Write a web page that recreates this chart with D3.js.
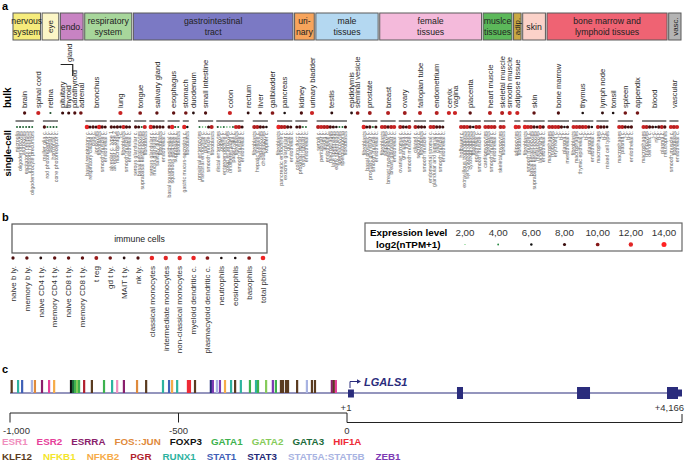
<!DOCTYPE html>
<html><head><meta charset="utf-8">
<script src="https://cdn.jsdelivr.net/npm/d3@7"></script>
<style>body{margin:0;background:#fff}svg{font-family:"Liberation Sans",Arial,sans-serif;display:block}</style>
</head><body><script>
// ---------------- DATA ----------------
const bulkTissues = ["brain","spinal cord","retina","pituitary","thyroid","parathyroid","adrenal","bronchus","lung","tongue","salivary gland","esophagus","stomach","duodenum","small intestine","colon","rectum","liver","gallbladder","pancreas","kidney","urinary bladder","testis","epididymis","seminal vesicle","prostate","breast","ovary","fallopian tube","endometrium","cervix","vagina","placenta","heart muscle","skeletal muscle","smooth muscle","adipose tissue","skin","bone marrow","thymus","lymph node","tonsil","spleen","appendix","blood","vascular"];
const bulkValues = [8.5,11.5,5,8,8,8.5,9.5,null,11.5,10,9,9,9.5,7,8.5,11.5,7.5,8,10,6.5,8.5,11.5,7.5,7,10,10.5,11,10.5,11,11,11.5,11.5,9,11,11,11.5,11.5,9,8.5,6.5,7.5,6.5,9.5,9.5,null,null];

const singleCell = [
 ["brain","microglia",4.5],["brain","oligodendrocytes",5],["brain","astrocytes",4.5],["brain","excitatory neurons",4.5],["brain","inhibitory neurons",5],["brain","oligodendrocyte precursors",4.5],
 ["retina","muller glia c.",8.5],["retina","rod photoreceptor c.",4.5],["retina","bipolar c.",4.5],["retina","horizontal c.",5],["retina","cone photoreceptor c.",4.5],
 ["bronchus","basal respiratory c.",12.5],["bronchus","respiratory ciliated c.",8],["bronchus","club c.",8.5],["bronchus","ionocytes",8],["bronchus","fibroblasts",12],["bronchus","smooth muscle c.",8.5],["bronchus","endothelial c.",8],
 ["lung","alveolar c. type 1",8.5],["lung","alveolar c. type 2",8],["lung","macrophages",8.5],["lung","t-c.",7.5],["lung","fibroblasts",11.5],["lung","smooth muscle c.",8.5],["lung","endothelial c.",8],
 ["tongue","serous glandular c.",8.5],["tongue","basal keratinocytes",8],["tongue","suprabasal keratinocytes",4.5],["tongue","fibroblasts",11.5],
 ["salivary gland","serous glandular c.",12],["salivary gland","mucus glandular c.",8.5],["salivary gland","salivary duct c.",8.5],["salivary gland","fibroblasts",8.5],["salivary gland","endothelial c.",8],
 ["esophagus","basal squamous epithelial c.",8.5],["esophagus","squamous epithelial c.",12],["esophagus","suprabasal c.",5],["esophagus","fibroblasts",4.5],
 ["stomach","gastric mucus-secreting c.",12],["stomach","fibroblasts",6],
 ["small intestine","proximal enterocytes",4.5],["small intestine","intestinal endocrine c.",3],["small intestine","paneth c.",3],["small intestine","smooth muscle c.",8],["small intestine","fibroblasts",11],
 ["colon","distal enterocytes",5],["colon","goblet c.",3.5],["colon","enteroendocrine c.",4.5],["colon","colon enterocytes",3],["colon","undifferentiated c.",3],["colon","paneth-like c.",4.5],["colon","fibroblasts",11.5],["colon","smooth muscle c.",11],["colon","endothelial c.",8],
 ["liver","fibroblasts",11],["liver","hepatic stellate c.",11],["liver","hepatocytes",8.5],["liver","cholangiocytes",8],["liver","kupffer c.",6.5],
 ["pancreas","fibroblasts",12.5],["pancreas","pancreatic endocrine c.",11],["pancreas","exocrine glandular c.",11],["pancreas","ductal c.",8.5],["pancreas","endothelial c.",8],
 ["kidney","collecting duct c.",8],["kidney","proximal tubular c.",8.5],["kidney","distal tubular c.",4.5],["kidney","endothelial c.",4.5],
 ["testis","sertoli c.",11],["testis","peritubular c.",11.5],["testis","leydig c.",11],["testis","endothelial c.",11],["testis","macrophages",8.5],["testis","late spermatids",8],["testis","early spermatids",6.5],["testis","spermatocytes",4.5],["testis","spermatogonia",4.5],["testis","fibroblasts",8],
 ["prostate","fibroblasts",12],["prostate","basal prostatic c.",8],["prostate","prostatic glandular c.",8.5],["prostate","smooth muscle c.",4.5],["prostate","endothelial c.",8],
 ["breast","fibroblasts",11.5],["breast","adipocytes",11],["breast","breast myoepithelial c.",8.5],["breast","breast glandular c.",11],["breast","endothelial c.",11.5],
 ["ovary","ovarian stromal c.",11],["ovary","granulosa c.",8.5],["ovary","theca c.",8],["ovary","smooth muscle c.",11],
 ["fallopian tube","ciliated c.",11],["fallopian tube","secretory c.",8.5],["fallopian tube","fibroblasts",8.5],["fallopian tube","smooth muscle c.",8],
 ["endometrium","endometrial stromal c.",11.5],["endometrium","glandular and luminal c.",11],["endometrium","ciliated c.",8.5],["endometrium","smooth muscle c.",8.5],["endometrium","endothelial c.",8],
 ["placenta","hofbauer c.",11.5],["placenta","extravillous trophoblasts",11],["placenta","syncytiotrophoblasts",11.5],["placenta","cytotrophoblasts",8.5],["placenta","fibroblasts",6.5],["placenta","endothelial c.",11],["placenta","smooth muscle c.",11],
 ["heart muscle","cardiomyocytes",11.5],["heart muscle","fibroblasts",11],["heart muscle","smooth muscle c.",11.5],["heart muscle","endothelial c.",11],
 ["skeletal muscle","skeletal myocytes",11],["skeletal muscle","fibroblasts",11.5],
 ["adipose tissue","adipocytes",12],["adipose tissue","fibroblasts",11.5],
 ["skin","fibroblasts",12],["skin","smooth muscle c.",11.5],["skin","basal keratinocytes",11],["skin","suprabasal keratinocytes",8.5],["skin","melanocytes",8],["skin","langerhans c.",11],["skin","endothelial c.",8.5],
 ["bone marrow","macrophages",11.5],["bone marrow","monocytes",11],["bone marrow","erythroid c.",11.5],["bone marrow","t-c.",11],["bone marrow","b-c.",8.5],["bone marrow","plasma c.",6.5],["bone marrow","mesothelial c.",8],
 ["thymus","fibroblasts",11.5],["thymus","macrophages",11.5],["thymus","thymic epithelial c.",11],["thymus","t-c.",11],["thymus","b-c.",11.5],["thymus","plasma c.",8.5],["thymus","endothelial c.",6.5],
 ["lymph node","macrophages",11],["lymph node","t-c.",8.5],["lymph node","b-c.",8.5],["lymph node","mixed cell types",7],
 ["spleen","macrophages",11.5],["spleen","plasma c.",11],["spleen","t-c.",8.5],["spleen","b-c.",8],["spleen","endothelial c.",8.5],
 ["blood","macrophages",11.5],["blood","monocytes",11],["blood","dendritic c.",8.5],["blood","t-c.",8],["blood","nk-c.",6.5],["blood","b-c.",8.5],["blood","plasma c.",11],["blood","neutrophils",8.5],
 ["vascular","smooth muscle c.",11.5],["vascular","fibroblasts",11],["vascular","endothelial c.",11.5]
];

const systemNames = [["nervous","system"],["eye"],["endo."],["respiratory","system"],["gastrointestinal","tract"],["uri-","nary"],["male","tissues"],["female","tissues"],["muslce","tissues"],["adip."],["skin"],["bone marrow and","lymphoid tissues"],["vasc."]];
const systemSizes = [2,1,4,2,11,2,4,7,3,1,1,7,1];
const systemColors = ["#f6ec7c","#fcf6c6","#c883c3","#a7d69b","#7b79c4","#f7a45c","#b4d8f1","#f4badb","#5cb85a","#c9a843","#fbd2c9","#ef6373","#b4b4b4"];

const immuneCells = ["naive b ly.","memory b ly.","naive CD4 t ly.","memory CD4 t ly.","naive CD8 t ly.","memory CD8 t ly.","t reg","gd t ly.","MAIT t ly.","nk ly.","classical monocytes","intermediate monocytes","non-classical monocytes","myeloid dendritic c.","plasmacytoid dendritic c.","neutrophils","eosinophils","basophils","total pbmc"];
const immuneValues = [8.5,9,7,9,9,9,10.5,9.5,7,8.5,12.5,12,12,12.5,10,6.5,6.5,10,13];

const legendLevels = [2,4,6,8,10,12,14];
const legendLabels = ["2,00","4,00","6,00","8,00","10,00","12,00","14,00"];

const tfNames = ["ESR1","ESR2","ESRRA","FOS::JUN","FOXP3","GATA1","GATA2","GATA3","HIF1A","KLF12","NFKB1","NFKB2","PGR","RUNX1","STAT1","STAT3","STAT5A:STAT5B","ZEB1"];
const tfColors = ["#f08dbd","#e6409a","#8a1f6c","#df8a3c","#111111","#3db24e","#86cb5a","#1d6c3b","#ee2a36","#5a3b20","#f4e52c","#f6ab48","#b11f2e","#2eb39f","#3f60b7","#1f2a78","#a8b3e2","#7d3bb4"];
const tfRow1 = 9; // first nine names on the first legend row

const tfSitePos = [-995,-976,-964,-935,-926,-905,-884,-869,-819,-813,-807,-801,-795,-780,-757,-721,-697,-682,-662,-623,-596,-546,-528,-519,-504,-472,-466,-451,-404,-398,-386,-377,-362,-344,-332,-315,-288,-270,-264,-240,-220,-211,-196,-190,-181,-175,-148,-119,-104,-95,-45,-39,-33];
const tfSiteTF = ["KLF12","RUNX1","STAT1","STAT5A:STAT5B","FOS::JUN","ESRRA","ESR2","NFKB2","FOXP3","GATA3","GATA1","GATA2","GATA1","PGR","KLF12","GATA1","RUNX1","ESR1","ESRRA","FOS::JUN","KLF12","RUNX1","STAT1","NFKB2","RUNX1","HIF1A","HIF1A","KLF12","STAT3","ZEB1","STAT5A:STAT5B","ZEB1","NFKB2","RUNX1","KLF12","RUNX1","GATA1","RUNX1","GATA1","GATA2","ZEB1","GATA1","KLF12","KLF12","KLF12","KLF12","KLF12","STAT5A:STAT5B","KLF12","KLF12","ESRRA","KLF12","ESR2"];

const exonStart = [1,1360,2857,3979];
const exonEnd = [75,1435,3019,4116];
const exonThick = [false,true,true,true];
const geneEnd = 4166;
const promoterTicks = [-1000,-500,0];
const promoterTickLabels = ["-1,000","-500","0"];

// ---------------- DRAW ----------------
const W = 685, H = 461;
const svg = d3.select("body").append("svg").attr("width", W).attr("height", H);
const col = d3.scaleLinear().domain(legendLevels).range(["#57c364","#2a8a45","#111111","#3a0c0c","#861818","#e12626","#ff2323"]).clamp(true);
const rad = d3.scaleLinear().domain([2,14]).range([0.6,2.5]).clamp(true);

// layout slots derived from the data order
const GAP = 1;
let slot = 0;
const tInfo = [];
const cellItems = [];
bulkTissues.forEach((t, i) => {
  if (i > 0) slot += GAP;
  const cells = singleCell.filter(d => d[0] === t);
  const n = Math.max(cells.length, 1);
  cells.forEach((c, j) => cellItems.push({tissue: t, name: c[1], value: c[2], s: slot + j}));
  tInfo.push({name: t, value: bulkValues[i], start: slot, end: slot + n - 1, center: slot + (n - 1) / 2, nCells: cells.length});
  slot += n;
});
const x = d3.scaleLinear().domain([0, slot - 1]).range([17, 677]);

// panel letters
const letter = (t, px, py) => svg.append("text").attr("x", px).attr("y", py).attr("font-size", 11).attr("font-weight", "bold").text(t);
letter("a", 2, 10); letter("b", 2, 221); letter("c", 2, 373);

// header boxes
let ti = 0;
const boxTop = 13, boxBot = 40;
systemNames.forEach((lines, k) => {
  const first = tInfo[ti], last = tInfo[ti + systemSizes[k] - 1];
  ti += systemSizes[k];
  const x0 = x(first.start - (1 + GAP) / 2) + 0.8, x1 = x(last.end + (1 + GAP) / 2) - 0.8;
  const l = k === 0 ? 13 : x0, r = k === systemNames.length - 1 ? 681 : x1;
  svg.append("rect").attr("x", l).attr("y", boxTop).attr("width", r - l).attr("height", boxBot - boxTop)
    .attr("fill", systemColors[k]).attr("stroke", "#5a5a5a").attr("stroke-width", 1);
  const cx = (l + r) / 2, cy = (boxTop + boxBot) / 2;
  if (lines.length === 1 && r - l < 20) {
    svg.append("text").attr("transform", `translate(${cx},${cy}) rotate(-90)`).attr("text-anchor", "middle").attr("dy", "0.35em")
      .attr("font-size", 8).attr("fill", "#222").text(lines[0]);
  } else {
    const t = svg.append("text").attr("text-anchor", "middle").attr("font-size", 8.7).attr("fill", "#222");
    lines.forEach((ln, j) => t.append("tspan").attr("x", cx).attr("y", cy + 3 + (j - (lines.length - 1) / 2) * 10.5).text(ln));
  }
});

// row labels
svg.append("text").attr("transform", "translate(10.5,108) rotate(-90)").attr("font-size", 10).attr("font-weight", "bold").text("bulk");
svg.append("text").attr("transform", "translate(11,130) rotate(-90)").attr("text-anchor", "end").attr("font-size", 9.5).attr("font-weight", "bold").text("single-cell");

// bulk labels
const bulkY = 113, lineY = 121, scY = 127;
svg.append("g").selectAll("text").data(tInfo).join("text")
  .attr("transform", d => `translate(${x(d.center)},108) rotate(-90)`)
  .attr("dy", "0.35em").attr("font-size", 7.6).attr("fill", "#2a2a2a").text(d => d.name);
// "gland" bracket
const xp = x(tInfo[3].center), xt = x(tInfo[4].center), xpt = x(tInfo[5].center);
const xb = (xt + xpt) / 2 + 1;
svg.append("path").attr("d", `M${xp - 2},64.5H${xb}V76`).attr("fill", "none").attr("stroke", "#222").attr("stroke-width", 1.2);
svg.append("text").attr("transform", `translate(${xb - 3},62) rotate(-90)`).attr("dy", "0.35em").attr("font-size", 7.6).attr("fill", "#2a2a2a").text("gland");

// bulk dots
svg.append("g").selectAll("circle").data(tInfo.filter(d => d.value != null)).join("circle")
  .attr("cx", d => x(d.center)).attr("cy", bulkY).attr("r", d => rad(d.value)).attr("fill", d => col(d.value));

// group lines
svg.append("g").selectAll("line").data(tInfo.filter(d => d.nCells > 0)).join("line")
  .attr("x1", d => x(d.start) - 1.5).attr("x2", d => x(d.end) + 1.5).attr("y1", lineY).attr("y2", lineY)
  .attr("stroke", "#222").attr("stroke-width", 1.1);

// single-cell dots & labels
svg.append("g").selectAll("circle").data(cellItems).join("circle")
  .attr("cx", d => x(d.s)).attr("cy", scY).attr("r", d => rad(d.value)).attr("fill", d => col(d.value));
svg.append("g").selectAll("text").data(cellItems).join("text")
  .attr("transform", d => `translate(${x(d.s)},131) rotate(-90)`).attr("text-anchor", "end").attr("dy", "0.35em")
  .attr("font-size", 5.3).attr("fill", "#666").text(d => d.name);

// ---- panel b ----
svg.append("rect").attr("x", 12).attr("y", 224).attr("width", 255).attr("height", 29).attr("fill", "#fff").attr("stroke", "#555").attr("stroke-width", 1.2);
svg.append("text").attr("x", 139.5).attr("y", 241.5).attr("text-anchor", "middle").attr("font-size", 8.7).attr("fill", "#222").text("immune cells");
const xi = d3.scalePoint().domain(immuneCells).range([13, 263]);
svg.append("g").selectAll("circle").data(immuneCells).join("circle")
  .attr("cx", d => xi(d)).attr("cy", 258).attr("r", (d, i) => rad(immuneValues[i])).attr("fill", (d, i) => col(immuneValues[i]));
svg.append("g").selectAll("text").data(immuneCells).join("text")
  .attr("transform", d => `translate(${xi(d)},266) rotate(-90)`).attr("text-anchor", "end").attr("dy", "0.35em")
  .attr("font-size", 8).attr("fill", "#333").text(d => d);

// legend
svg.append("rect").attr("x", 365).attr("y", 223).attr("width", 317).attr("height", 28).attr("fill", "#fff").attr("stroke", "#666").attr("stroke-width", 1.2);
svg.append("text").attr("x", 370).attr("y", 235.5).attr("font-size", 9.8).attr("font-weight", "bold").text("Expression level");
svg.append("text").attr("x", 376).attr("y", 247.5).attr("font-size", 9.8).attr("font-weight", "bold").text("log2(nTPM+1)");
const xl = d3.scalePoint().domain(legendLevels).range([465, 664]);
svg.append("g").selectAll("text").data(legendLevels).join("text")
  .attr("x", d => xl(d)).attr("y", 235.5).attr("text-anchor", "middle").attr("font-size", 9.8).attr("fill", "#333").text((d, i) => legendLabels[i]);
svg.append("g").selectAll("circle").data(legendLevels).join("circle")
  .attr("cx", d => xl(d)).attr("cy", 244.5).attr("r", d => rad(d)).attr("fill", d => col(d));

// ---- panel c ----
const navy = "#2a2c7c";
const xP = d3.scaleLinear().domain([-1000, 0]).range([10, 347]);
const xG = d3.scaleLinear().domain([1, geneEnd]).range([348, 682]);
const tfColor = d3.scaleOrdinal().domain(tfNames).range(tfColors);
const geneY = 393;
svg.append("line").attr("x1", 10).attr("x2", 682).attr("y1", geneY).attr("y2", geneY).attr("stroke", navy).attr("stroke-width", 1.2);
svg.append("g").selectAll("rect").data(tfSitePos).join("rect")
  .attr("x", d => xP(d) - 1.1).attr("y", 380).attr("width", 2.2).attr("height", geneY - 380)
  .attr("fill", (d, i) => tfColor(tfSiteTF[i]));
// exons
svg.append("g").selectAll("rect").data(exonStart).join("rect")
  .attr("x", d => xG(d)).attr("width", (d, i) => xG(exonEnd[i]) - xG(d))
  .attr("y", (d, i) => exonThick[i] ? 387 : 389.5).attr("height", (d, i) => exonThick[i] ? 12 : 8)
  .attr("fill", navy);
svg.append("rect").attr("x", xG(exonEnd[3])).attr("width", xG(geneEnd) - xG(exonEnd[3])).attr("y", 389.5).attr("height", 7).attr("fill", navy);
// TSS arrow
const tx = xG(1) + 2;
svg.append("path").attr("d", `M${tx},388V381.5H${tx + 8}`).attr("fill", "none").attr("stroke", navy).attr("stroke-width", 1);
svg.append("path").attr("d", `M${tx + 11},381.5L${tx + 7},379.3V383.7Z`).attr("fill", navy);
svg.append("text").attr("x", tx + 14).attr("y", 385.5).attr("font-size", 11).attr("font-weight", "bold").attr("font-style", "italic").attr("fill", navy).text("LGALS1");

// scale bracket
const sb = svg.append("g").attr("stroke", "#222").attr("fill", "none").attr("stroke-width", 1);
sb.append("path").attr("d", `M${xP(-1000)},422.5V413H${xP(0)}V422.5H${xG(geneEnd)}V414`);
sb.append("line").attr("x1", xP(-500)).attr("x2", xP(-500)).attr("y1", 413).attr("y2", 422.5);
svg.append("g").selectAll("text").data(promoterTicks).join("text")
  .attr("x", d => xP(d) + (d === -1000 ? -7 : 0)).attr("y", 433.5).attr("text-anchor", d => d === -1000 ? "start" : "middle")
  .attr("font-size", 9.5).attr("fill", "#333").text((d, i) => promoterTickLabels[i]);
svg.append("text").attr("x", xG(1) - 2).attr("y", 410.5).attr("text-anchor", "middle").attr("font-size", 9.5).attr("fill", "#333").text("+1");
svg.append("text").attr("x", xG(geneEnd) + 2).attr("y", 410.5).attr("text-anchor", "end").attr("font-size", 9.5).attr("fill", "#333").text("+" + d3.format(",")(geneEnd));

// TF legend (flow layout)
const lg = svg.append("g").attr("font-size", 9.8).attr("font-weight", "bold");
let lx = 2, row = 0;
tfNames.forEach((n, i) => {
  if (i === tfRow1) { row = 1; lx = 2; }
  const t = lg.append("text").attr("x", lx).attr("y", 445 + row * 14.5).attr("fill", tfColors[i]).text(n);
  lx += t.node().getComputedTextLength() + (row === 0 ? 9 : 11);
});
</script></body></html>
